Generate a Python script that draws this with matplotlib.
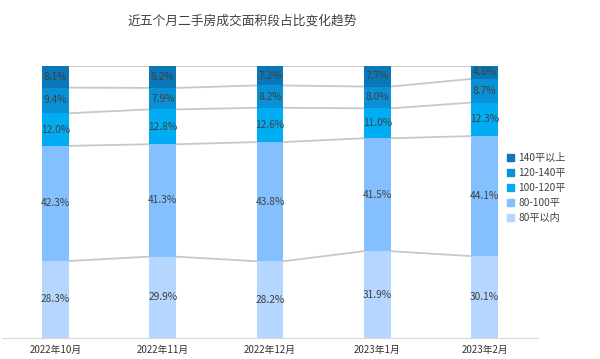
import numpy as np
import matplotlib.pyplot as plt
from matplotlib.patches import Patch

plt.rcParams['font.family'] = ['Noto Sans CJK SC', 'DejaVu Sans']

months = ['2022年10月', '2022年11月', '2022年12月', '2023年1月', '2023年2月']
series = ['80平以内', '80-100平', '100-120平', '120-140平', '140平以上']
s80 = [28.3, 29.9, 28.2, 31.9, 30.1]
s80_100 = [42.3, 41.3, 43.8, 41.5, 44.1]
s100_120 = [12.0, 12.8, 12.6, 11.0, 12.3]
s120_140 = [9.4, 7.9, 8.2, 8.0, 8.7]
s140 = [8.1, 8.2, 7.2, 7.7, 4.8]
colors = ['#b4d6ff', '#84c0ff', '#00adf2', '#0a90d6', '#0a78b8']

data = np.array([s80, s80_100, s100_120, s120_140, s140])
x = np.arange(len(months))
w = 0.25

fig = plt.figure(figsize=(6, 3.59), dpi=100)
ax = fig.add_axes([0.003, 0.0585, 0.894, 0.758])

bottom = np.zeros(len(months))
for i, vals in enumerate(data):
    ax.bar(x, vals, w, bottom=bottom, color=colors[i], zorder=2)
    for j, v in enumerate(vals):
        ax.text(x[j], bottom[j] + v / 2, f'{v:.1f}%', ha='center', va='center',
                fontsize=7.3, color='#404040', zorder=3)
    bottom = bottom + vals
    # connector lines between bars at the top of each segment
    tops = np.minimum(bottom, 100)
    for j in range(len(months) - 1):
        ax.plot([x[j] + w / 2, x[j + 1] - w / 2], [tops[j], tops[j + 1]],
                color='#c8c8c8', lw=1.3, zorder=1)

ax.set_xlim(-0.5, 4.5)
ax.set_ylim(0, 100)
ax.set_yticks([])
ax.set_xticks(x)
ax.set_xticklabels(months, fontsize=7, color='#333333')
ax.tick_params(axis='x', length=0, pad=5)
for side in ['top', 'right', 'left']:
    ax.spines[side].set_visible(False)
ax.spines['bottom'].set_color('#d9d9d9')

fig.text(0.403, 0.942, '近五个月二手房成交面积段占比变化趋势', ha='center', va='center',
         fontsize=9.2, color='#404040')

handles = [Patch(color=colors[i], label=series[i]) for i in range(len(series))][::-1]
fig.legend(handles=handles, loc='center left', bbox_to_anchor=(0.83, 0.476),
           frameon=False, fontsize=7.3, handlelength=0.7, handleheight=0.7,
           handletextpad=0.4, labelspacing=0.5, labelcolor='#404040')

fig.savefig('out.png', dpi=100)
